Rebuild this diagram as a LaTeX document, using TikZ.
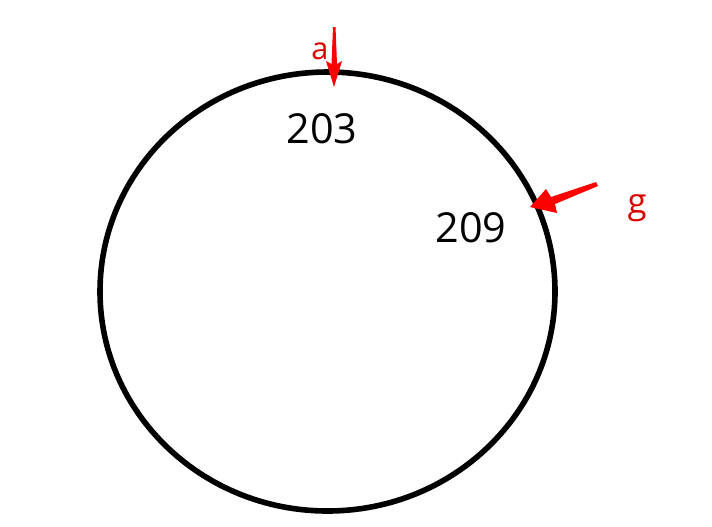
\documentclass[tikz,border=0pt]{standalone}
\usepackage{fontspec}
\setmainfont{Open Sans}
\begin{document}
\begin{tikzpicture}[x=0.75pt,y=-0.75pt,
  lbl/.style={inner sep=0pt,font=\fontsize{31}{31}\selectfont},
  redlbl/.style={inner sep=0pt,text=red!85!black},
  redarrow/.style={fill=red,draw=none}]
\useasboundingbox (0,0) rectangle (712,526);
\draw[line width=4.2pt] (327.5,291.5) ellipse [x radius=227.5,y radius=219.5];
\node[lbl] (n203) at (322,129) {203};
\node[lbl] (n209) at (471,228) {209};
\node[redlbl,font=\fontsize{23}{23}\selectfont] (la) at (320,51) {a};
\node[redlbl,font=\fontsize{26}{26}\selectfont] (lg) at (637,208) {g};
\fill[redarrow] (333,27) -- (335.5,27) -- (337,64) -- (342,61) -- (334,87) -- (326,61) -- (331.5,64) -- cycle;
\fill[redarrow] (596,182) -- (598,186) -- (555,204) -- (557,213) -- (530,207) -- (546,189) -- (551,197) -- cycle;
\end{tikzpicture}
\end{document}
